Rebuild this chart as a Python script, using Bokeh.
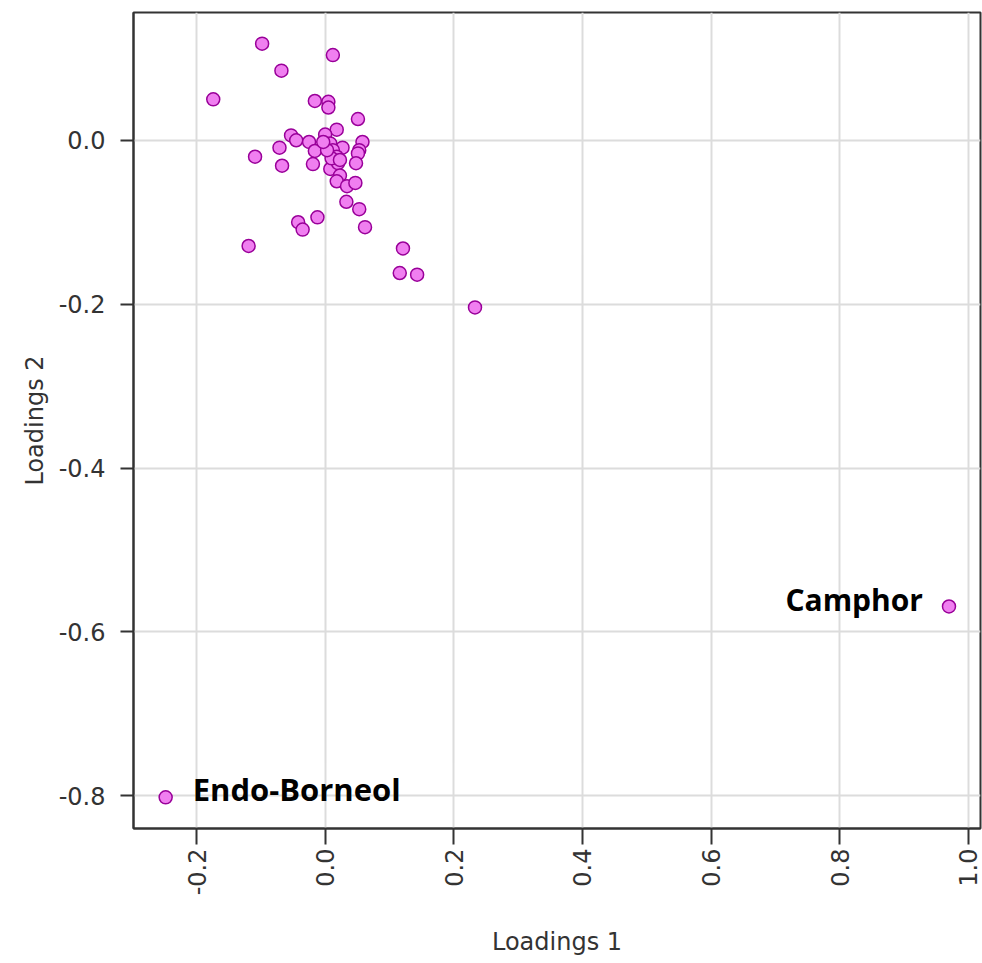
import math
from bokeh.plotting import figure
from bokeh.models import ColumnDataSource, FixedTicker, Range1d
from bokeh.core.properties import value
from bokeh.embed import file_html
from bokeh.resources import INLINE

# Loadings of the variables on the first two components
loadings_1 = [
    -0.098, 0.012, -0.068, -0.174, -0.016, 0.005, 0.005, 0.051, 0.018, -0.053,
    -0.045, -0.025, 0.000, 0.058, 0.053, 0.051, 0.048, 0.027, -0.016, -0.071,
    -0.109, -0.067, -0.019, 0.008, 0.020, 0.023, 0.018, 0.034, 0.047, 0.033,
    0.053, -0.012, -0.042, -0.035, 0.062, -0.119, 0.121, 0.116, 0.143, 0.233,
    0.008, 0.012, 0.018, 0.010, 0.023, 0.003, -0.003,
    0.970, -0.248,
]
loadings_2 = [
    0.118, 0.104, 0.085, 0.050, 0.048, 0.047, 0.040, 0.026, 0.013, 0.006,
    0.000, -0.002, 0.007, -0.002, -0.012, -0.016, -0.028, -0.009, -0.013, -0.009,
    -0.020, -0.031, -0.029, -0.035, -0.028, -0.043, -0.050, -0.056, -0.052, -0.075,
    -0.084, -0.094, -0.100, -0.109, -0.106, -0.129, -0.132, -0.162, -0.164, -0.204,
    -0.004, -0.012, -0.020, -0.022, -0.024, -0.012, -0.002,
    -0.569, -0.802,
]

# Named compounds
label_names = ["Camphor", "Endo-Borneol"]
label_x = [0.970, -0.248]
label_y = [-0.569, -0.802]

x_ticks = [-0.2, 0.0, 0.2, 0.4, 0.6, 0.8, 1.0]
y_ticks = [-0.8, -0.6, -0.4, -0.2, 0.0]

p = figure(
    width=982, height=963,
    x_range=Range1d(-0.298, 1.019), y_range=Range1d(-0.840, 0.156),
    output_backend="svg", toolbar_location=None,
    min_border_left=133, min_border_right=2, min_border_top=12, min_border_bottom=135,
)
p.background_fill_color = "white"
p.border_fill_color = "white"
p.outline_line_color = "#333333"
p.outline_line_width = 2

# grid
for g in (p.xgrid, p.ygrid):
    g.grid_line_color = "#dcdcdc"
    g.grid_line_width = 2
p.xaxis.ticker = FixedTicker(ticks=x_ticks)
p.yaxis.ticker = FixedTicker(ticks=y_ticks)
p.xgrid.ticker = FixedTicker(ticks=x_ticks)
p.ygrid.ticker = FixedTicker(ticks=y_ticks)

for ax in (p.xaxis, p.yaxis):
    ax.axis_line_color = "#333333"
    ax.axis_line_width = 2
    ax.major_tick_line_color = "#333333"
    ax.major_tick_line_width = 2
    ax.major_tick_in = 0
    ax.minor_tick_line_color = None
    ax.major_label_text_font = "DejaVu Sans"
    ax.major_label_text_color = "#333333"
    ax.major_label_text_font_size = "24px"
    ax.axis_label_text_font = "DejaVu Sans"
    ax.axis_label_text_font_style = "normal"
    ax.axis_label_text_color = "#333333"
    ax.axis_label_text_font_size = "24px"

p.xaxis.axis_label = "Loadings 1"
p.yaxis.axis_label = "Loadings 2"
p.xaxis.major_tick_out = 16
p.yaxis.major_tick_out = 13
# x tick labels read from bottom to top
p.xaxis.major_label_orientation = math.pi / 2
p.xaxis.major_label_standoff = 4
p.yaxis.major_label_standoff = 15
p.xaxis.axis_label_standoff = 30
p.yaxis.axis_label_standoff = 7
p.xaxis.major_label_overrides = {t: f"{t:.1f}" for t in x_ticks}
p.yaxis.major_label_overrides = {t: f"{t:.1f}" for t in y_ticks}

src = ColumnDataSource(dict(x=loadings_1, y=loadings_2))
p.scatter("x", "y", source=src, size=13, fill_color="#f07ff0",
          line_color="#990099", line_width=1.5)

# Annotations for the two outlying compounds
p.text(x=[label_x[0]], y=[label_y[0]], text=[label_names[0]],
       text_font=value("Open Sans"), text_font_style="bold", text_font_size="30px",
       text_align="right", text_baseline="alphabetic", x_offset=-26, y_offset=-7,
       text_color="black")
p.text(x=[label_x[1]], y=[label_y[1]], text=[label_names[1]],
       text_font=value("Open Sans"), text_font_style="bold", text_font_size="31px",
       text_align="left", text_baseline="alphabetic", x_offset=27, y_offset=-8,
       text_color="black")

open("out.html", "w").write(file_html(p, INLINE))
